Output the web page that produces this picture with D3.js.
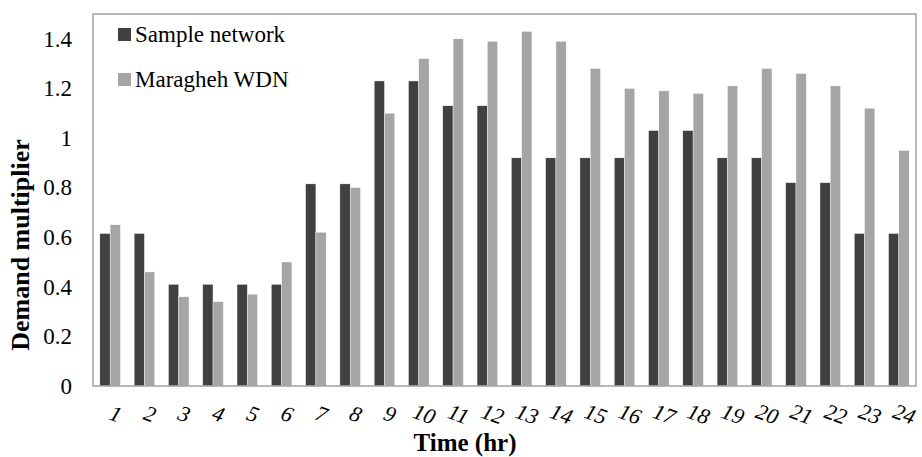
<!DOCTYPE html>
<html><head><meta charset="utf-8">
<script src="https://cdn.jsdelivr.net/npm/d3@7"></script>
<style>body{margin:0;background:#fff}svg{display:block}</style>
</head><body>
<svg id="c" width="922" height="457"></svg>
<script>
const hours = ["1","2","3","4","5","6","7","8","9","10","11","12","13","14","15","16","17","18","19","20","21","22","23","24"];
const sampleNetwork = [0.615,0.615,0.41,0.41,0.41,0.41,0.815,0.815,1.23,1.23,1.13,1.13,0.92,0.92,0.92,0.92,1.03,1.03,0.92,0.92,0.82,0.82,0.615,0.615];
const maraghehWDN = [0.65,0.46,0.36,0.34,0.37,0.50,0.62,0.80,1.10,1.32,1.40,1.39,1.43,1.39,1.28,1.20,1.19,1.18,1.21,1.28,1.26,1.21,1.12,0.95];
const seriesNames = ["Sample network","Maragheh WDN"];
const yTicks = [0,0.2,0.4,0.6,0.8,1,1.2,1.4];
const colors = ["#404040","#a5a5a5"];

const svg = d3.select("#c");
const L=93, R=916, T=14, B=386;
const x = d3.scaleBand().domain(hours).range([L,R]).paddingInner(0.4).paddingOuter(0.2);
const xs = d3.scaleBand().domain([0,1]).range([0,x.bandwidth()]);
const y = d3.scaleLinear().domain([0,1.5]).range([B,T]);
const serif = "'Liberation Serif','Times New Roman',serif";

const series=[sampleNetwork,maraghehWDN];
series.forEach((vals,si)=>{
  svg.append("g").selectAll("rect").data(vals).join("rect")
    .attr("x",(d,i)=>x(hours[i])+xs(si))
    .attr("y",d=>y(d))
    .attr("width",xs.bandwidth())
    .attr("height",d=>B-y(d))
    .attr("fill",colors[si])
    .attr("stroke","#fff").attr("stroke-width",0.4);
});

// frame
svg.append("rect").attr("x",L).attr("y",T).attr("width",R-L).attr("height",B-T)
  .attr("fill","none").attr("stroke","#a0a0a0").attr("stroke-width",1.5);

// y axis
const ya = svg.append("g").attr("transform",`translate(${L},0)`)
  .call(d3.axisLeft(y).tickValues(yTicks).tickSize(0).tickPadding(21).tickFormat(d=>String(d)));
ya.select(".domain").remove();
ya.selectAll("text").attr("font-family",serif).attr("font-size",23).attr("fill","#000");

// x axis labels
const xa = svg.append("g").attr("transform",`translate(0,${B})`)
  .call(d3.axisBottom(x).tickSize(0).tickFormat(d=>d));
xa.select(".domain").remove();
xa.selectAll("text")
  .attr("font-family",serif).attr("font-style","italic").attr("font-size",22).attr("fill","#000")
  .attr("text-anchor","middle").attr("dy",null).attr("y",0)
  .attr("transform","translate(3,35) rotate(20)");

// axis titles
svg.append("text").attr("x",465).attr("y",451).attr("text-anchor","middle")
  .attr("font-family",serif).attr("font-weight","bold").attr("font-size",25).text("Time (hr)");
svg.append("text").attr("transform","translate(29,245) rotate(-90)").attr("text-anchor","middle")
  .attr("font-family",serif).attr("font-weight","bold").attr("font-size",26).text("Demand multiplier");

// legend
const lg = svg.append("g");
seriesNames.forEach((n,i)=>{
  const yy = 34 + i*45;
  lg.append("rect").attr("x",118).attr("y",yy-6).attr("width",13).attr("height",13).attr("fill",colors[i]);
  lg.append("text").attr("x",135).attr("y",yy+8).attr("font-family",serif).attr("font-size",23).text(n);
});
</script>
</body></html>
